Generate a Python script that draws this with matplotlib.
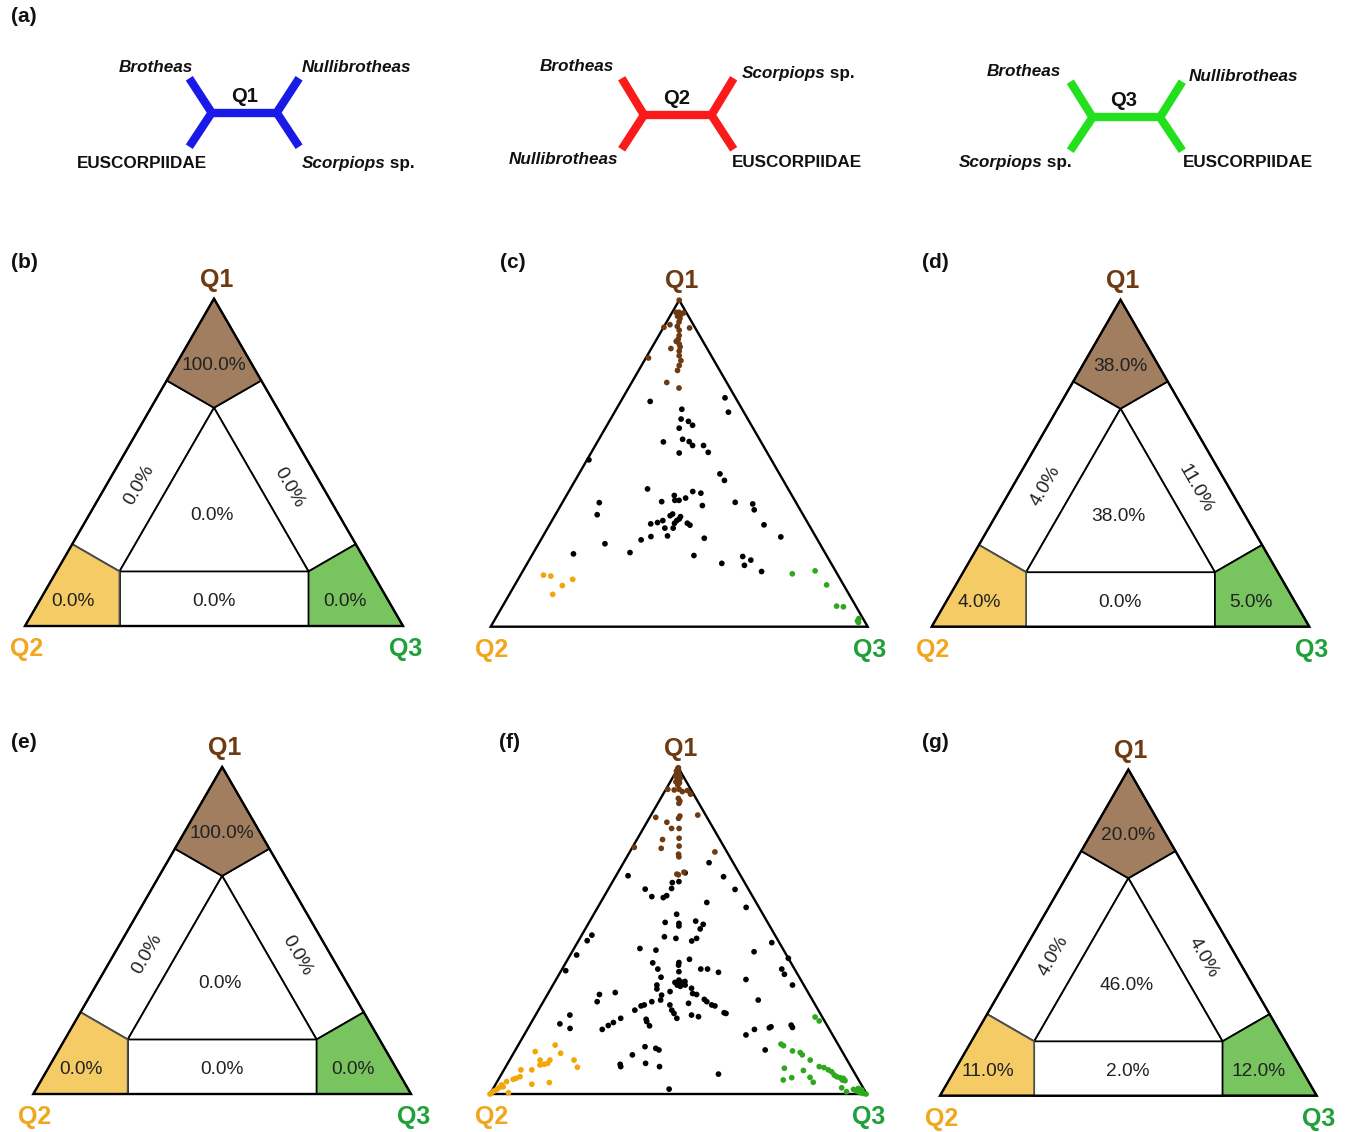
import numpy as np
import matplotlib
matplotlib.use("Agg")
import matplotlib.pyplot as plt
from matplotlib.patches import Polygon

plt.rcParams['font.family'] = ['Liberation Sans', 'DejaVu Sans']

W_PX, H_PX = 1351, 1132

# ---------------- data ----------------
quartets = ["Q1", "Q2", "Q3"]
# region order: corner Q1, corner Q2, corner Q3, edge Q1-Q2, edge Q1-Q3, edge Q2-Q3, centre
pct_b = [100.0, 0.0, 0.0, 0.0, 0.0, 0.0, 0.0]
pct_d = [38.0, 4.0, 5.0, 4.0, 11.0, 0.0, 38.0]
pct_e = [100.0, 0.0, 0.0, 0.0, 0.0, 0.0, 0.0]
pct_g = [20.0, 11.0, 12.0, 4.0, 4.0, 2.0, 46.0]

# panel (c): quartet posterior weights (Q1, Q3); Q2 = 1 - Q1 - Q3
c_q1 = [1.000, 0.963, 0.963, 0.961, 0.956, 0.951, 0.944, 0.933, 0.925, 0.917, 0.915, 0.908,
        0.892, 0.881, 0.866, 0.857, 0.852, 0.844, 0.830, 0.823, 0.815, 0.800, 0.785, 0.748,
        0.731, 0.874, 0.920,
        0.690, 0.701, 0.657, 0.666, 0.636, 0.629, 0.617, 0.608, 0.566, 0.574, 0.567, 0.555,
        0.555, 0.534, 0.532, 0.511, 0.468, 0.448, 0.422, 0.414, 0.409, 0.402, 0.387, 0.387,
        0.394, 0.383, 0.380, 0.371, 0.381, 0.376, 0.358, 0.343, 0.340, 0.345, 0.337, 0.330,
        0.325, 0.317, 0.325, 0.319, 0.315, 0.317, 0.311, 0.302, 0.302, 0.312, 0.275, 0.271,
        0.278, 0.276, 0.266, 0.254, 0.223, 0.227, 0.218, 0.194, 0.215, 0.204, 0.188, 0.169,
        0.158, 0.155, 0.126, 0.145, 0.099,
        0.162, 0.171, 0.128, 0.063, 0.061, 0.018, 0.025, 0.013]
c_q3 = [0.000, 0.010, 0.018, 0.031, 0.026, 0.020, 0.030, 0.033, 0.013, 0.001, 0.070, 0.046,
        0.054, 0.057, 0.067, 0.074, 0.052, 0.078, 0.085, 0.007, 0.097, 0.100, 0.103, 0.093,
        0.134, 0.055, 0.035,
        0.078, 0.271, 0.302, 0.174, 0.187, 0.210, 0.227, 0.196, 0.175, 0.222, 0.243, 0.258,
        0.287, 0.310, 0.234, 0.005, 0.374, 0.396, 0.205, 0.329, 0.353, 0.286, 0.306, 0.295,
        0.320, 0.262, 0.098, 0.376, 0.458, 0.507, 0.520, 0.111, 0.306, 0.310, 0.335, 0.335,
        0.331, 0.329, 0.294, 0.283, 0.267, 0.363, 0.373, 0.311, 0.333, 0.569, 0.632, 0.431,
        0.330, 0.287, 0.266, 0.176, 0.108, 0.256, 0.430, 0.516, 0.561, 0.588, 0.579, 0.634,
        0.061, 0.082, 0.127, 0.145, 0.115,
        0.719, 0.775, 0.827, 0.886, 0.905, 0.964, 0.964, 0.969]

# panel (f)
f_q1 = [0.998, 0.993, 0.985, 0.978, 0.972, 0.967, 0.962, 0.957, 0.954, 0.947, 0.934, 0.932,
        0.934, 0.930, 0.919, 0.927, 0.906, 0.898, 0.891, 0.855, 0.848, 0.852, 0.845, 0.833,
        0.814, 0.814, 0.780, 0.784, 0.756, 0.753, 0.760, 0.742, 0.735, 0.727, 0.674, 0.672,
        0.678, 0.680, 1.000, 0.990, 0.995, 0.980, 0.975, 0.970,
        0.709, 0.669, 0.666, 0.651, 0.648, 0.628, 0.627, 0.605, 0.602, 0.608, 0.630, 0.587,
        0.572, 0.551, 0.526, 0.523, 0.515, 0.530, 0.520, 0.506, 0.482, 0.477, 0.469, 0.477,
        0.487, 0.470, 0.446, 0.441, 0.464, 0.436, 0.426, 0.416, 0.403, 0.395, 0.413, 0.402,
        0.383, 0.375, 0.383, 0.383, 0.373, 0.378, 0.383, 0.351, 0.367, 0.334, 0.358, 0.349,
        0.342, 0.342, 0.334, 0.334, 0.334, 0.322, 0.324, 0.305, 0.308, 0.311, 0.305, 0.283,
        0.314, 0.303, 0.288, 0.283, 0.273, 0.278, 0.290, 0.283, 0.273, 0.270, 0.288, 0.273,
        0.270, 0.257, 0.257, 0.247, 0.242, 0.237, 0.249, 0.247, 0.232, 0.242, 0.229, 0.222,
        0.209, 0.232, 0.219, 0.210, 0.198, 0.215, 0.201, 0.198, 0.181, 0.203, 0.206, 0.211,
        0.204, 0.145, 0.140, 0.135, 0.120, 0.135, 0.091, 0.084, 0.094, 0.084, 0.061, 0.015,
        0.335, 0.340, 0.330, 0.345,
        0.150, 0.130, 0.125, 0.104, 0.094, 0.091, 0.089, 0.104, 0.104, 0.082, 0.074, 0.074,
        0.053, 0.048, 0.045, 0.038, 0.035, 0.030, 0.028, 0.020, 0.014, 0.009, 0.004, 0.000,
        0.004, 0.022,
        0.236, 0.224, 0.153, 0.148, 0.132, 0.127, 0.120, 0.104, 0.084, 0.081, 0.074, 0.068,
        0.058, 0.053, 0.050, 0.048, 0.043, 0.041, 0.079, 0.072, 0.050, 0.051, 0.036, 0.043,
        0.019, 0.007, 0.014, 0.009, 0.017, 0.012, 0.002, 0.000, 0.004]
f_q3 = [0.000, 0.004, 0.005, 0.013, 0.010, 0.021, 0.019, 0.015, 0.026, 0.025, 0.005, 0.023,
        0.035, 0.059, 0.073, 0.047, 0.047, 0.055, 0.056, 0.124, 0.016, 0.078, 0.078, 0.053,
        0.095, 0.075, 0.068, 0.110, 0.005, 0.078, 0.122, 0.226, 0.133, 0.138, 0.159, 0.164,
        0.179, 0.175, 0.000, 0.000, 0.002, 0.008, 0.005, 0.015,
        0.227, 0.032, 0.287, 0.176, 0.160, 0.098, 0.337, 0.127, 0.159, 0.165, 0.167, 0.282,
        0.394, 0.220, 0.202, 0.240, 0.244, 0.281, 0.306, 0.305, 0.222, 0.255, 0.301, 0.310,
        0.027, 0.023, 0.175, 0.220, 0.516, 0.483, 0.017, 0.584, 0.300, 0.303, 0.323, 0.231,
        0.254, 0.314, 0.368, 0.386, 0.420, 0.012, 0.583, 0.504, 0.598, 0.636, 0.275, 0.327,
        0.320, 0.338, 0.330, 0.351, 0.276, 0.282, 0.373, 0.396, 0.384, 0.177, 0.138, 0.143,
        0.321, 0.304, 0.309, 0.288, 0.341, 0.388, 0.424, 0.434, 0.452, 0.462, 0.568, 0.273,
        0.266, 0.256, 0.354, 0.365, 0.414, 0.435, 0.497, 0.503, 0.380, 0.091, 0.300, 0.305,
        0.319, 0.231, 0.218, 0.209, 0.199, 0.078, 0.112, 0.603, 0.589, 0.640, 0.643, 0.694,
        0.701, 0.339, 0.370, 0.381, 0.318, 0.663, 0.300, 0.305, 0.366, 0.408, 0.576, 0.468,
        0.335, 0.330, 0.340, 0.345,
        0.098, 0.055, 0.125, 0.107, 0.106, 0.098, 0.088, 0.081, 0.171, 0.191, 0.045, 0.074,
        0.053, 0.045, 0.039, 0.025, 0.140, 0.096, 0.017, 0.015, 0.011, 0.006, 0.002, 0.000,
        0.047, 0.024,
        0.745, 0.762, 0.696, 0.705, 0.737, 0.760, 0.769, 0.798, 0.832, 0.846, 0.861, 0.873,
        0.885, 0.894, 0.904, 0.914, 0.914, 0.922, 0.742, 0.796, 0.776, 0.824, 0.840, 0.757,
        0.924, 0.943, 0.958, 0.969, 0.969, 0.981, 0.990, 0.998, 0.980]

# ---------------- style ----------------
LABEL_COL = {"Q1": "#6e3a12", "Q2": "#f0a71e", "Q3": "#20a03a"}
FILL_COL = ["#a07e5f", "#f5cb66", "#78c45f"]
DOT_COL = {"Q1": "#6e3a12", "Q2": "#f2a60a", "Q3": "#2fa81e", "none": "black"}
TXT_COL = "#222222"
S3 = np.sqrt(3) / 2

def to_xy(q1, q2, q3):
    return q3 + q1 / 2.0, q1 * S3

fig = plt.figure(figsize=(W_PX / 100, H_PX / 100), dpi=100)
fig.patch.set_facecolor("white")

def fx(px):
    return px / W_PX

def fy(py):
    return 1 - py / H_PX

def panel_axes(x0, yb, W):
    xl, xr, yl, yt = -0.12, 1.12, -0.13, 1.0
    left = fx(x0 + xl * W)
    right = fx(x0 + xr * W)
    top = fy(yb - yt * W)
    bottom = fy(yb - yl * W)
    ax = fig.add_axes([left, bottom, right - left, top - bottom])
    ax.set_xlim(xl, xr)
    ax.set_ylim(yl, yt)
    ax.axis("off")
    return ax

def corner_labels(ax):
    ax.text(0.507, S3 + 0.05, "Q1", ha="center", va="center", fontsize=18,
            fontweight="bold", color=LABEL_COL["Q1"])
    ax.text(0.003, -0.062, "Q2", ha="center", va="center", fontsize=18,
            fontweight="bold", color=LABEL_COL["Q2"])
    ax.text(1.006, -0.062, "Q3", ha="center", va="center", fontsize=18,
            fontweight="bold", color=LABEL_COL["Q3"])

def outline(ax):
    tri = [to_xy(1, 0, 0), to_xy(0, 1, 0), to_xy(0, 0, 1)]
    ax.add_patch(Polygon(tri, closed=True, fill=False, edgecolor="black",
                         linewidth=1.7, joinstyle="miter", zorder=5))

a, b, t, s = 3 / 4, 1 / 4, 2 / 3, 1 / 6
REGIONS = [
    [(1, 0, 0), (a, b, 0), (t, s, s), (a, 0, b)],
    [(0, 1, 0), (b, a, 0), (s, t, s), (0, a, b)],
    [(0, 0, 1), (0, b, a), (s, s, t), (b, 0, a)],
    [(a, b, 0), (b, a, 0), (s, t, s), (t, s, s)],
    [(a, 0, b), (t, s, s), (s, s, t), (b, 0, a)],
    [(0, a, b), (s, t, s), (s, s, t), (0, b, a)],
    [(t, s, s), (s, t, s), (s, s, t)],
]
LABEL_POS = [(0.500, 0.690, 0), (0.127, 0.065, 0), (0.846, 0.065, 0),
             (0.302, 0.372, 60), (0.699, 0.367, -60), (0.499, 0.065, 0),
             (0.495, 0.293, 0)]

def mapping_panel(x0, yb, W, pct):
    ax = panel_axes(x0, yb, W)
    order = [3, 4, 5, 6, 0, 2, 1]
    for i in order:
        poly = [to_xy(*p) for p in REGIONS[i]]
        fc = FILL_COL[i] if i < 3 else "white"
        ec = "#4d4d4d" if i == 1 else "black"
        ax.add_patch(Polygon(poly, closed=True, facecolor=fc, edgecolor=ec,
                             linewidth=1.3, joinstyle="miter", zorder=2))
    for (x, y, rot), v in zip(LABEL_POS, pct):
        ax.text(x, y, f"{v:.1f}%", ha="center", va="center", rotation=rot,
                rotation_mode="anchor", fontsize=13.8, color=TXT_COL, zorder=6)
    outline(ax)
    corner_labels(ax)

def classify(q1, q2, q3):
    if q1 - q2 > 0.5 and q1 - q3 > 0.5:
        return "Q1"
    if q2 - q1 > 0.5 and q2 - q3 > 0.5:
        return "Q2"
    if q3 - q1 > 0.5 and q3 - q2 > 0.5:
        return "Q3"
    return "none"

def scatter_panel(x0, yb, W, q1s, q3s):
    ax = panel_axes(x0, yb, W)
    q1s = np.asarray(q1s)
    q3s = np.asarray(q3s)
    q2s = np.clip(1 - q1s - q3s, 0, None)
    x, y = to_xy(q1s, q2s, q3s)
    cols = [DOT_COL[classify(*v)] for v in zip(q1s, q2s, q3s)]
    outline(ax)
    ax.scatter(x, y, s=17, c=cols, linewidths=0, zorder=6, clip_on=False)
    corner_labels(ax)

mapping_panel(25, 626, 378, pct_b)
scatter_panel(490.7, 626.7, 377, c_q1, c_q3)
mapping_panel(931.7, 626.7, 377.6, pct_d)
mapping_panel(33.3, 1094, 377.7, pct_e)
scatter_panel(490, 1094, 376.7, f_q1, f_q3)
mapping_panel(940, 1095.7, 376.7, pct_g)

# panel letters
for lab, px, py in [("(a)", 11, 16), ("(b)", 11, 263), ("(c)", 500, 263), ("(d)", 922, 263),
                    ("(e)", 11, 742), ("(f)", 499, 743), ("(g)", 922, 742)]:
    fig.text(fx(px), fy(py), lab, ha="left", va="center", fontsize=15,
             fontweight="bold", color="#111111")

# ---------------- (a) quartet trees ----------------
axt = fig.add_axes([0, fy(200), 1, 200 / H_PX])
axt.set_xlim(0, W_PX)
axt.set_ylim(200, 0)
axt.axis("off")

TREE_COL = ["#1a1ae8", "#fa1a1a", "#22e01c"]
TREES = [  # joint-left x, joint-right x, y, dx, dy_up, dy_down
    (211.7, 276.7, 112.7, 22.4, 34.4, 34.0),
    (644.0, 711.4, 115.0, 22.3, 36.7, 34.3),
    (1092.6, 1160.0, 117.3, 22.3, 35.6, 33.4),
]
TREE_LABELS = [
    [("Brotheas", 193, 67.7, "right"), ("Nullibrotheas", 301.7, 67.7, "left"),
     ("EUSCORPIIDAE", 77.3, 163.3, "left"), ("Scorpiops|sp.", 301.7, 163.3, "left")],
    [("Brotheas", 614.3, 66.7, "right"), ("Scorpiops|sp.", 741.5, 73.3, "left"),
     ("Nullibrotheas", 618.3, 160, "right"), ("EUSCORPIIDAE", 731.5, 162.7, "left")],
    [("Brotheas", 1060.5, 71.7, "right"), ("Nullibrotheas", 1188.5, 76.7, "left"),
     ("Scorpiops|sp.", 958.5, 162.7, "left"), ("EUSCORPIIDAE", 1182.5, 162.7, "left")],
]
Q_POS = [(245, 96.7), (677, 98.3), (1124, 100)]
TFS = 12.3

for k, (xl, xr, yc, dx, du, dd) in enumerate(TREES):
    col = TREE_COL[k]
    kw = dict(color=col, linewidth=6, solid_capstyle="butt", solid_joinstyle="miter")
    axt.plot([xl - dx, xl, xl - dx], [yc - du, yc, yc + dd], **kw)
    axt.plot([xr + dx, xr, xr + dx], [yc - du, yc, yc + dd], **kw)
    axt.plot([xl, xr], [yc, yc], **kw)
    axt.text(Q_POS[k][0], Q_POS[k][1], quartets[k], ha="center", va="center",
             fontsize=14.5, fontweight="bold", color="#111111")
    for name, px, py, ha in TREE_LABELS[k]:
        if name == "EUSCORPIIDAE":
            axt.text(px, py, name, ha=ha, va="center", fontsize=TFS,
                     fontweight="bold", color="#111111")
        elif "|" in name:
            gen, sp = name.split("|")
            tx = axt.text(px, py, gen, ha="left", va="center", fontsize=TFS,
                          fontweight="bold", fontstyle="italic", color="#111111")
            axt.annotate(" " + sp, xy=(1, 0), xycoords=tx, ha="left", va="bottom",
                         fontsize=TFS, fontweight="bold", color="#111111")
        else:
            axt.text(px, py, name, ha=ha, va="center", fontsize=TFS,
                     fontweight="bold", fontstyle="italic", color="#111111")

fig.savefig("out.png", dpi=100, facecolor="white")
